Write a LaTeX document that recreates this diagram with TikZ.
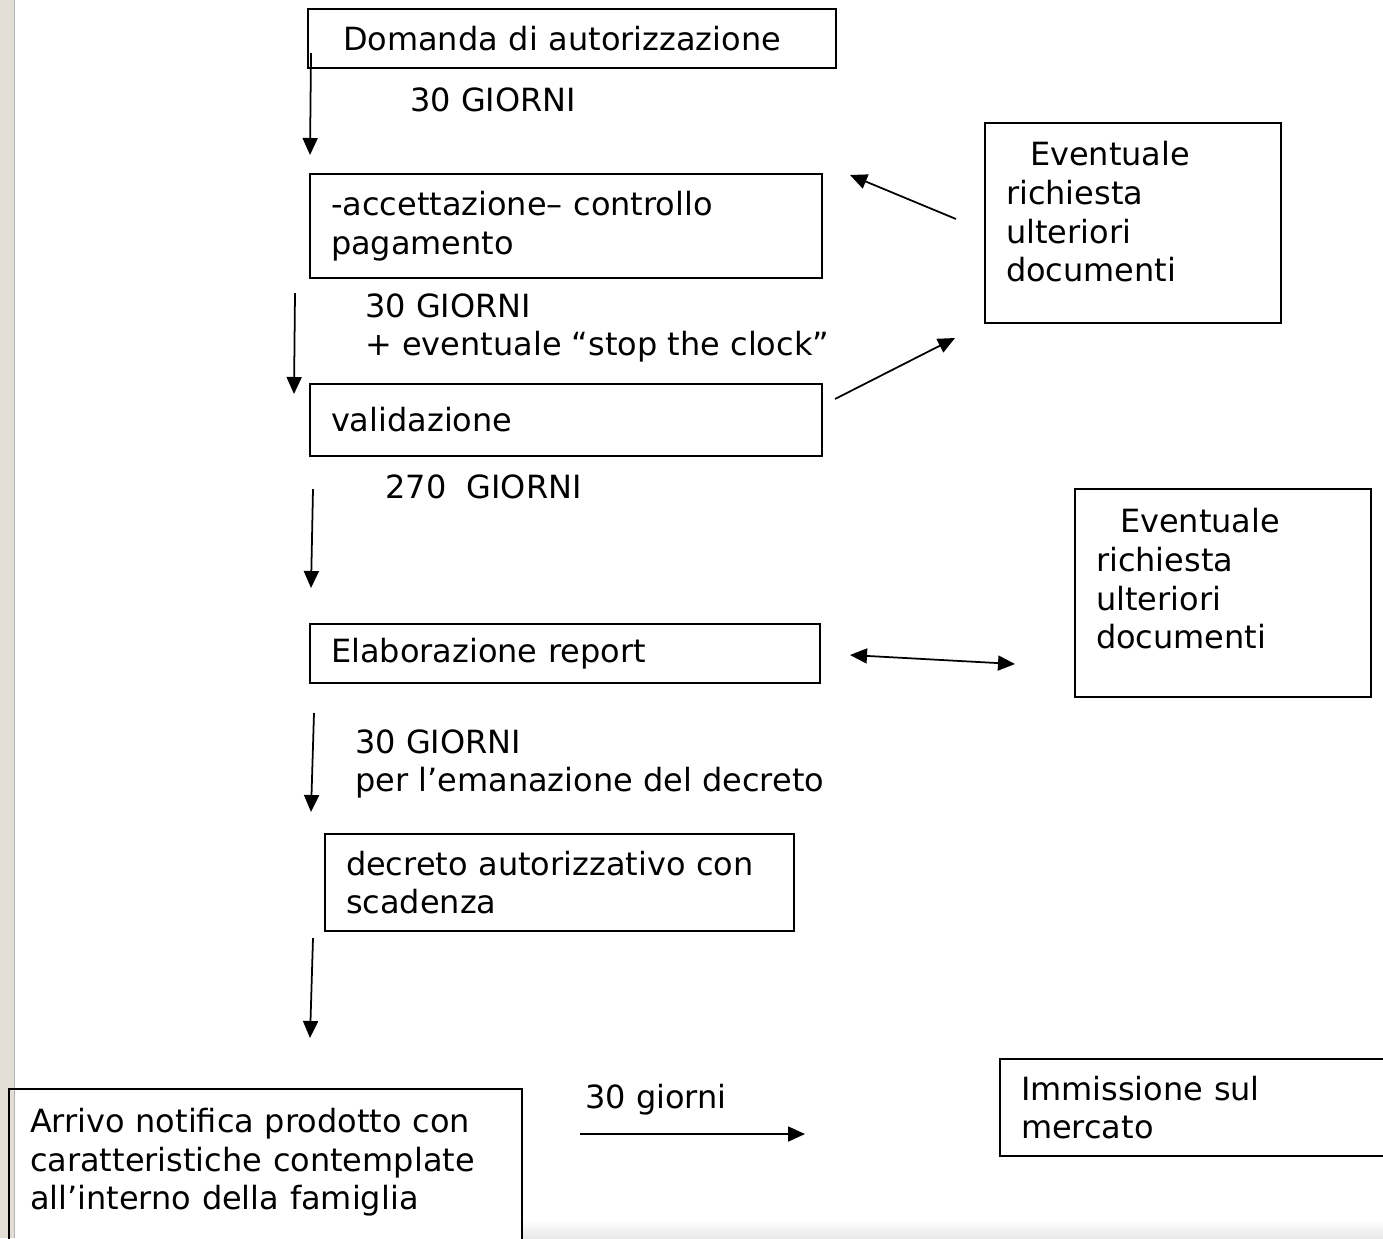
\documentclass[tikz,border=0pt]{standalone}
\usepackage{fontspec}
\setmainfont{DejaVu Sans}
\usepackage{tikz}
\usetikzlibrary{
    arrows.meta,
    positioning,
    calc
}
\definecolor{sidebar}{HTML}{E3DED5}
\tikzset{
    sbox/.style={
        draw,
        rectangle,
        line width=1.1pt,
        align=left,
        inner xsep=0.42cm,
        inner ysep=0pt
    },
    lab/.style={
        align=left,
        inner sep=0pt,
        anchor=west
    },
    arr/.style={
        -{Triangle[length=0.34cm,width=0.3cm]},
        line width=1pt
    },
    darr/.style={
        {Triangle[length=0.34cm,width=0.3cm]}-{Triangle[length=0.34cm,width=0.3cm]},
        line width=1pt
    }
}

\begin{document}
\begin{tikzpicture}[x=1cm,y=1cm,font=\fontsize{18.2}{22}\selectfont]
\useasboundingbox (0,0) rectangle (27.66,-24.76);
\fill[sidebar] (0,0) rectangle (0.28,-24.76);
\draw[gray!60, line width=1pt] (0.29,0) -- (0.29,-24.76);
\shade[top color=white, bottom color=gray!18] (10.44,-24.4) rectangle (27.66,-24.76);

% main column
\node[sbox, text width=9.72cm, minimum height=1.18cm] (dom) at (11.44,-0.77) {\hspace*{0.28cm}Domanda di autorizzazione};
\node[sbox, text width=9.40cm, minimum height=2.08cm] (acc) at (11.32,-4.52) {-accettazione– controllo\\pagamento};
\node[sbox, text width=9.40cm, minimum height=1.44cm] (val) at (11.32,-8.40) {validazione};
\node[sbox, text width=9.36cm, minimum height=1.18cm] (ela) at (11.30,-13.07) {Elaborazione report};
\node[sbox, text width=8.54cm, minimum height=1.94cm] (dec) at (11.19,-17.65) {decreto autorizzativo con\\scadenza};
\node[sbox, text width=9.42cm, minimum height=3.57cm] (arr) at (5.31,-23.565) {Arrivo notifica prodotto con\\caratteristiche contemplate\\all’interno della famiglia\\\mbox{}};
\node[sbox, text width=7.56cm, minimum height=1.94cm] (imm) at (24.2,-22.15) {Immissione sul\\mercato};

% side boxes
\node[sbox, text width=5.08cm, minimum height=4.0cm] (ev1) at (22.66,-4.46) {\hspace*{0.48cm}Eventuale\\richiesta\\ulteriori\\documenti\\[-0.32cm]\mbox{}};
\node[sbox, text width=5.08cm, minimum height=4.16cm] (ev2) at (24.46,-11.86) {\hspace*{0.48cm}Eventuale\\richiesta\\ulteriori\\documenti\\[-0.2cm]\mbox{}};

% time labels
\node[lab] (t1) at (8.2,-2.0) {30 GIORNI};
\node[lab] (t2) at (7.3,-6.56) {30 GIORNI\\+ eventuale “stop the clock”};
\node[lab] (t3) at (7.7,-9.74) {270\ \ GIORNI};
\node[lab] (t4) at (7.1,-15.28) {30 GIORNI\\per l’emanazione del decreto};
\node[lab] (t5) at (11.7,-22.0) {30 giorni};

% arrow ends
\coordinate (a1s) at (6.22,-1.06);
\coordinate (a1e) at (6.20,-3.10);
\coordinate (a2s) at (5.90,-5.86);
\coordinate (a2e) at (5.88,-7.88);
\coordinate (a3s) at (6.26,-9.78);
\coordinate (a3e) at (6.22,-11.76);
\coordinate (a4s) at (6.28,-14.26);
\coordinate (a4e) at (6.22,-16.24);
\coordinate (a5s) at (6.26,-18.76);
\coordinate (a5e) at (6.20,-20.76);
\coordinate (b1s) at (19.12,-4.38);
\coordinate (b1e) at (17.0,-3.5);
\coordinate (b2s) at (16.7,-7.98);
\coordinate (b2e) at (19.1,-6.76);
\coordinate (c1s) at (17.0,-13.1);
\coordinate (c1e) at (20.3,-13.28);
\coordinate (h1s) at (11.6,-22.68);
\coordinate (h1e) at (16.1,-22.68);

\draw[arr] (a1s) -- (a1e);
\draw[arr] (a2s) -- (a2e);
\draw[arr] (a3s) -- (a3e);
\draw[arr] (a4s) -- (a4e);
\draw[arr] (a5s) -- (a5e);
\draw[arr] (b1s) -- (b1e);
\draw[arr] (b2s) -- (b2e);
\draw[darr] (c1s) -- (c1e);
\draw[arr] (h1s) -- (h1e);
\end{tikzpicture}
\end{document}
